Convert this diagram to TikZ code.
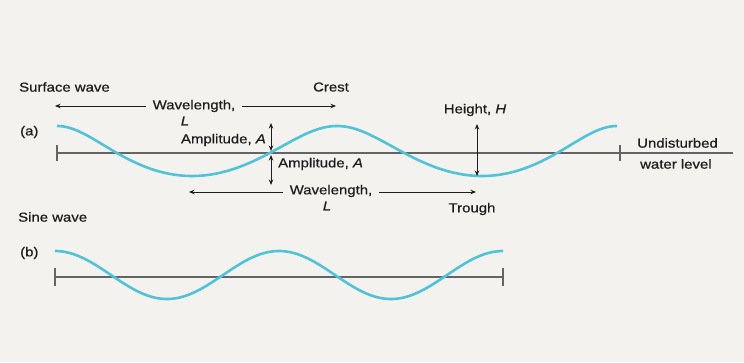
\documentclass[tikz,border=0pt]{standalone}
\usepackage{fontspec}
\setmainfont[FakeStretch=1.15,FakeBold=0.6]{Liberation Sans}
\usetikzlibrary{arrows.meta}
\definecolor{bg}{RGB}{243,242,238}
\definecolor{wavec}{RGB}{80,195,215}
\definecolor{ink}{RGB}{30,30,30}
\definecolor{lev}{RGB}{100,100,100}
\begin{document}
\begin{tikzpicture}[x=1pt,y=-1pt,
  lbl/.style={font=\fontsize{13}{14}\selectfont, text=ink, inner sep=0pt},
  wv/.style={wavec, line width=2.6pt},
  lvl/.style={lev, line width=1.2pt},
  arr/.style={ink, line width=1pt, -{Stealth[length=5.5pt,width=4.5pt]}},
  darr/.style={ink, line width=1pt, {Stealth[length=5.5pt,width=4.5pt]}-{Stealth[length=5.5pt,width=4.5pt]}}]
\fill[bg] (0,0) rectangle (744,362);
\useasboundingbox (0,0) rectangle (744,362);

% ---- (a) surface wave ----
\node[lbl,anchor=west] (sw) at (19,87) {Surface wave};
\node[lbl] (crest) at (331,87) {Crest};
\node[lbl,anchor=west] (a) at (20,132) {(a)};

\coordinate (la1) at (57,153);
\coordinate (la2) at (733,153);
\coordinate (ta1u) at (57,145); \coordinate (ta1d) at (57,161);
\coordinate (ta2u) at (620,145); \coordinate (ta2d) at (620,161);
\draw[lvl] (la1) -- (la2);
\draw[lvl] (ta1u) -- (ta1d);
\draw[lvl] (ta2u) -- (ta2d);

\draw[wv] plot[domain=0:720, samples=200, variable=\t]
  ({57 + 0.77778*\t - 10*sin(\t) - 5*sin(\t/2)}, {151 - 25*cos(\t)});

% upper wavelength
\node[lbl] (wl1) at (194,106) {Wavelength,};
\node[lbl] (L1) at (185,121) {\textit{L}};
\coordinate (wl1l) at (55,106);
\coordinate (wl1r) at (336,106);
\coordinate (wl1a) at (146,106);
\coordinate (wl1b) at (242,106);
\draw[arr] (wl1a) -- (wl1l);
\draw[arr] (wl1b) -- (wl1r);

% amplitudes
\node[lbl,anchor=east] (amp1) at (266,140) {Amplitude, \textit{A}};
\node[lbl,anchor=west] (amp2) at (278,164) {Amplitude, \textit{A}};
\coordinate (amptop) at (271,123);
\coordinate (ampu) at (271,151);
\coordinate (ampd) at (271,155);
\coordinate (ampbot) at (271,185);
\draw[darr] (amptop) -- (ampu);
\draw[darr] (ampd) -- (ampbot);

% height
\node[lbl] (ht) at (475,110) {Height, \textit{H}};
\coordinate (htop) at (477,124);
\coordinate (hbot) at (477,176);
\draw[darr] (htop) -- (hbot);

% undisturbed water level
\node[lbl,anchor=west] (und) at (637,143) {Undisturbed};
\node[lbl,anchor=west] (wlv) at (640,164) {water level};

% lower wavelength
\node[lbl] (wl2) at (331,191) {Wavelength,};
\node[lbl] (L2) at (327,206) {\textit{L}};
\coordinate (wl2l) at (189,192);
\coordinate (wl2r) at (476,192);
\coordinate (wl2a) at (283,192);
\coordinate (wl2b) at (379,192);
\draw[arr] (wl2a) -- (wl2l);
\draw[arr] (wl2b) -- (wl2r);

\node[lbl] (trough) at (472,209) {Trough};

% ---- (b) sine wave ----
\node[lbl,anchor=west] (sn) at (18,217) {Sine wave};
\node[lbl,anchor=west] (b) at (20,253) {(b)};

\coordinate (lb1) at (55,277);
\coordinate (lb2) at (503,277);
\coordinate (tb1u) at (55,268); \coordinate (tb1d) at (55,286);
\coordinate (tb2u) at (503,268); \coordinate (tb2d) at (503,286);
\draw[lvl] (lb1) -- (lb2);
\draw[lvl] (tb1u) -- (tb1d);
\draw[lvl] (tb2u) -- (tb2d);

\draw[wv] plot[domain=0:720, samples=200, variable=\t]
  ({55 + 0.62222*\t}, {275 - 24*cos(\t)});
\end{tikzpicture}
\end{document}
